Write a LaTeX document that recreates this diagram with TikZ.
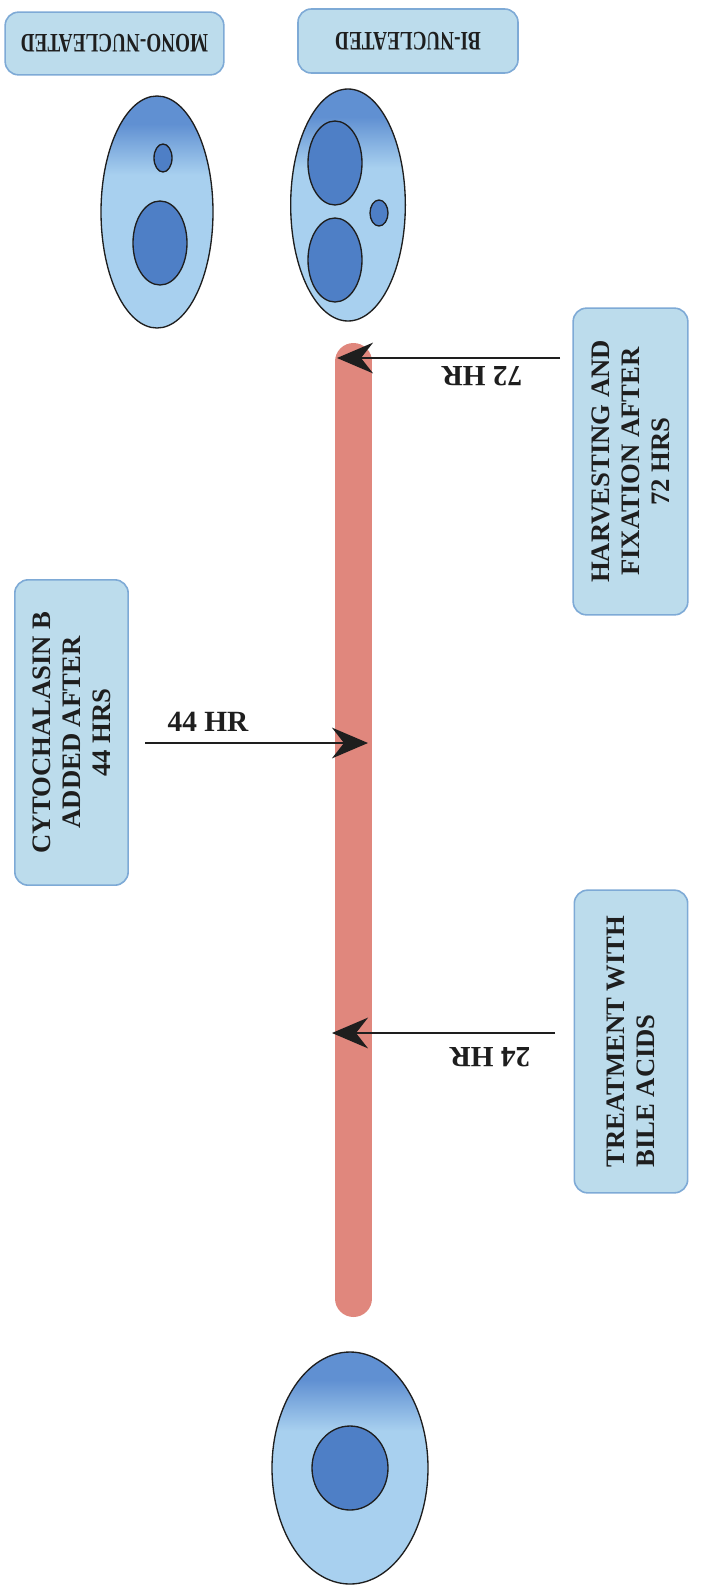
\documentclass[tikz,border=0pt]{standalone}
\usepackage{fontspec}
\setmainfont{Liberation Serif}
\usepackage{graphicx}
\usepackage{xcolor}
\usepackage{tikz}
\usetikzlibrary{arrows.meta,shapes.geometric}
\definecolor{boxfill}{HTML}{BCDCEC}
\definecolor{boxline}{HTML}{7EAAD6}
\definecolor{celllt}{HTML}{A8D0EF}
\definecolor{celldk}{HTML}{6090D2}
\definecolor{nucc}{HTML}{4E7FC6}
\definecolor{barc}{HTML}{E0877D}
\definecolor{inkc}{HTML}{1E1E1E}
\pgfdeclareverticalshading{cellshade}{100bp}{color(0bp)=(celllt); color(58bp)=(celllt); color(69bp)=(celldk); color(100bp)=(celldk)}
\tikzset{
  ar/.style={-{Stealth[length=27pt,width=23pt,inset=9pt]},line width=1.6pt,inkc},
  box/.style={draw=boxline,line width=1.2pt,rounded corners=10pt,fill=boxfill,align=center,inner sep=2pt,font=\fontsize{20}{22.5}\selectfont\bfseries,text=inkc},
  hr/.style={font=\fontsize{22}{24}\selectfont\bfseries,text=inkc},
  cell/.style={ellipse,draw=inkc,line width=1pt,shading=cellshade,inner sep=0pt},
  nuc/.style={ellipse,draw=inkc,line width=1pt,fill=nucc,inner sep=0pt}
}

\begin{document}
\begin{tikzpicture}[x=0.75pt,y=-0.75pt]
\useasboundingbox[fill=white] (0,0) rectangle (727,1585);
\draw[barc,line width=27.75pt,line cap=round] (353.5,361.5) -- (353.5,1298.5);
\coordinate (t72) at (337,358);
\coordinate (s72) at (560,358);
\coordinate (t44) at (368,743);
\coordinate (s44) at (145,743);
\coordinate (t24) at (332,1033);
\coordinate (s24) at (555,1033);
\draw[ar] (s72) -- (t72);
\draw[ar] (s44) -- (t44);
\draw[ar] (s24) -- (t24);
\node[hr,rotate=180] (l72) at (482,376) {72 HR};
\node[hr] (l44) at (208,722) {44 HR};
\node[hr,rotate=180] (l24) at (490,1057) {24 HR};

\node[box,rotate=180,minimum width=164pt,minimum height=47pt] (mono) at (114.5,43.5) {\scalebox{0.72}[1]{MONO-NUCLEATED}};
\node[box,rotate=180,minimum width=165pt,minimum height=48pt] (bi) at (408,41) {\scalebox{0.72}[1]{BI-NUCLEATED}};
\node[box,rotate=90,minimum width=230pt,minimum height=86pt] (harv) at (630.5,461.5) {HARVESTING AND\\FIXATION AFTER\\72 HRS};
\node[box,rotate=90,minimum width=229pt,minimum height=85pt] (cyto) at (71.5,732.5) {CYTOCHALASIN B\\ADDED AFTER\\44 HRS};
\node[box,rotate=90,align=left,minimum width=227pt,minimum height=85pt] (treat) at (631,1041.5) {TREATMENT WITH\\BILE ACIDS};

\node[cell,minimum width=117pt,minimum height=174pt] (c0) at (350,1468) {};
\node[nuc,minimum width=57pt,minimum height=63pt] (n0) at (350,1468) {};
\node[cell,minimum width=84pt,minimum height=174pt] (mc) at (157,212) {};
\node[nuc,minimum width=40.5pt,minimum height=63pt] (mn) at (160,243) {};
\node[nuc,minimum width=13.5pt,minimum height=21pt] (mm) at (163,158) {};
\node[cell,minimum width=86pt,minimum height=174pt] (bc) at (348,205) {};
\node[nuc,minimum width=40.5pt,minimum height=63pt] (bn1) at (335,163) {};
\node[nuc,minimum width=40.5pt,minimum height=63pt] (bn2) at (335,260) {};
\node[nuc,minimum width=13.5pt,minimum height=19.5pt] (bm) at (379,213) {};
\end{tikzpicture}
\end{document}
